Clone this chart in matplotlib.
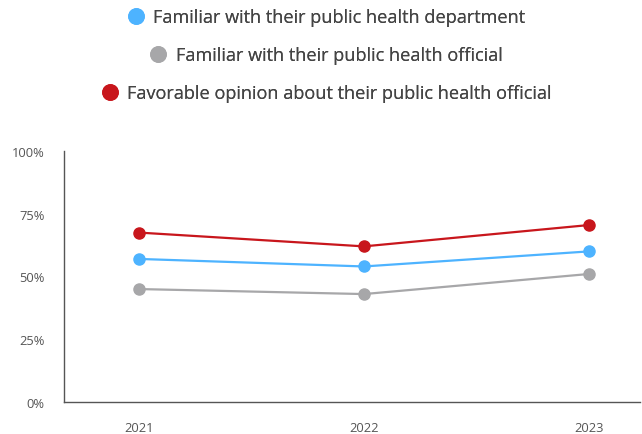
import matplotlib.pyplot as plt
from matplotlib.lines import Line2D

plt.rcParams['font.family'] = ['Open Sans', 'DejaVu Sans']

years = ['2021', '2022', '2023']
dept_familiar = [57, 54, 60]
official_familiar = [45, 43, 51]
official_favorable = [67.5, 62, 70.5]

labels = ['Familiar with their public health department',
          'Familiar with their public health official',
          'Favorable opinion about their public health official']
colors = ['#4db3ff', '#a7a7a9', '#c8161c']
series = [dept_familiar, official_familiar, official_favorable]

fig = plt.figure(figsize=(6.42, 4.35), dpi=100)
ax = fig.add_axes([64/642, 32/435, 576/642, 251/435])

x = range(len(years))
for vals, c in zip(series, colors):
    ax.plot(x, vals, color=c, linewidth=1.6, marker='o', markersize=8)

ax.set_xlim(-0.333, 2.227)
ax.set_ylim(0, 100)
ax.set_yticks([0, 25, 50, 75, 100])
ax.set_yticklabels(['0%', '25%', '50%', '75%', '100%'])
ax.set_xticks(list(x))
ax.set_xticklabels(years)
ax.tick_params(length=0, labelsize=9.3, colors='#555555', pad=14)
ax.tick_params(axis='y', pad=14)
for s in ['top', 'right']:
    ax.spines[s].set_visible(False)
for s in ['left', 'bottom']:
    ax.spines[s].set_color('#555555')
    ax.spines[s].set_linewidth(1)

# legend: one centered row per series
row_y = [1 - 18/435, 1 - 56/435, 1 - 94/435]
for lab, c, yy in zip(labels, colors, row_y):
    h = Line2D([], [], color=c, marker='o', linestyle='none', markersize=11)
    leg = fig.legend([h], [lab], loc='center', bbox_to_anchor=(0.507, yy),
                     frameon=False, fontsize=13.1, handletextpad=0.4,
                     handlelength=1.1, borderaxespad=0, borderpad=0)
    for t in leg.get_texts():
        t.set_color('#444444')
    fig.add_artist(leg)

fig.savefig('out.png', dpi=100)
